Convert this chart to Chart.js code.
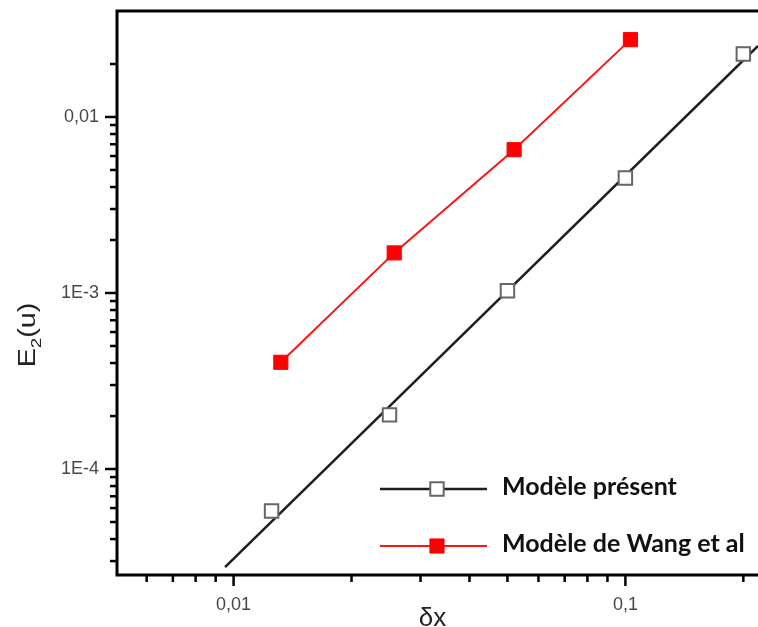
<!DOCTYPE html>
<html>
<head>
<meta charset="utf-8">
<script src="https://cdn.jsdelivr.net/npm/chart.js@4/dist/chart.umd.min.js"></script>
<style>
  html, body { margin: 0; padding: 0; background: #ffffff; }
  #wrap { width: 758px; height: 627px; }
</style>
</head>
<body>
<div id="wrap"><canvas id="chart" width="758" height="627"></canvas></div>
<script>
// Step size δx and L2 error E2(u) of each scheme
const dxPresent  = [0.0125, 0.025, 0.05, 0.1, 0.2];
const errPresent = [5.77e-5, 2.03e-4, 1.03e-3, 4.5e-3, 0.0228];
const dxWang     = [0.0132, 0.0257, 0.052, 0.103];
const errWang    = [4.04e-4, 1.69e-3, 6.52e-3, 0.0275];

// End points of the straight trend line drawn through the present model
const trendDx  = [0.00951, 0.218];
const trendErr = [2.77e-5, 0.0253];

const seriesNames = ['Modèle présent', 'Modèle de Wang et al'];

// Axis ticks (log scales): labelled majors and unlabelled minors
const xMajorTicks  = [0.01, 0.1];
const xMajorLabels = ['0,01', '0,1'];
const xMinorTicks  = [0.006, 0.007, 0.008, 0.009,
                      0.02, 0.03, 0.04, 0.05, 0.06, 0.07, 0.08, 0.09, 0.2];
const yMajorTicks  = [1e-4, 1e-3, 1e-2];
const yMajorLabels = ['1E-4', '1E-3', '0,01'];
const yMinorTicks  = [3e-5, 4e-5, 5e-5, 6e-5, 7e-5, 8e-5, 9e-5,
                      2e-4, 3e-4, 4e-4, 5e-4, 6e-4, 7e-4, 8e-4, 9e-4,
                      2e-3, 3e-3, 4e-3, 5e-3, 6e-3, 7e-3, 8e-3, 9e-3, 0.02];

const xRange = [0.00504, 0.218];
const yRange = [2.5e-5, 0.04];

const toPoints = (xs, ys) => xs.map((x, i) => ({ x: x, y: ys[i] }));

function tickList(majors, minors) {
  return majors.map(v => ({ value: v, major: true }))
    .concat(minors.map(v => ({ value: v, major: false })))
    .sort((a, b) => a.value - b.value);
}
function labelFor(majors, labels) {
  return function (value) {
    const i = majors.findIndex(m => Math.abs(m - value) / m < 1e-9);
    return i >= 0 ? labels[i] : '';
  };
}
// fixed axis box: no extra room reserved for overhanging labels
function fixSize(prop, size) {
  return s => {
    s[prop] = size;
    s.paddingTop = 0; s.paddingBottom = 0; s.paddingLeft = 0; s.paddingRight = 0;
  };
}

const TICK_FONT = { family: "'Liberation Sans', Arial, sans-serif", size: 18 };
const TICK_COLOR = '#484848';

// Frame, tick marks, axis titles and the in-plot legend
const framePlugin = {
  id: 'frame',
  afterDatasetsDraw(chart) {
    const ctx = chart.ctx;
    const a = chart.chartArea;
    const xs = chart.scales.x, ys = chart.scales.y;
    ctx.save();
    ctx.strokeStyle = '#000000';
    ctx.lineCap = 'butt';
    // tick marks, pointing outward
    ctx.lineWidth = 2.5;
    ys.ticks.forEach(t => {
      const py = ys.getPixelForValue(t.value);
      const len = t.major ? 12 : 7;
      ctx.beginPath();
      ctx.moveTo(a.left - len, py);
      ctx.lineTo(a.left, py);
      ctx.stroke();
    });
    xs.ticks.forEach(t => {
      const px = xs.getPixelForValue(t.value);
      const len = t.major ? 11 : 7;
      ctx.beginPath();
      ctx.moveTo(px, a.bottom);
      ctx.lineTo(px, a.bottom + len);
      ctx.stroke();
    });
    // axis box (left, bottom, top)
    ctx.lineWidth = 3;
    ctx.beginPath();
    ctx.moveTo(a.right, a.top);
    ctx.lineTo(a.left, a.top);
    ctx.lineTo(a.left, a.bottom);
    ctx.lineTo(a.right, a.bottom);
    ctx.stroke();
    ctx.restore();
  },
  afterDraw(chart) {
    const ctx = chart.ctx;
    const a = chart.chartArea;
    ctx.save();

    // x title
    ctx.fillStyle = '#222222';
    ctx.font = "26px 'Liberation Sans', Arial, sans-serif";
    ctx.textAlign = 'center';
    ctx.textBaseline = 'alphabetic';
    ctx.fillText('δx', (a.left + a.right) / 2 - 5, 626);

    // y title with subscript, rotated
    ctx.save();
    ctx.translate(35, 335);
    ctx.rotate(-Math.PI / 2);
    ctx.scale(1.25, 1);
    const big = "23px 'Liberation Sans', Arial, sans-serif";
    const small = "15px 'Liberation Sans', Arial, sans-serif";
    ctx.textAlign = 'left';
    ctx.font = big;  const wE = ctx.measureText('E').width;
    ctx.font = small; const w2 = ctx.measureText('2').width;
    ctx.font = big;  const wU = ctx.measureText('(u)').width;
    let x0 = -(wE + w2 + wU) / 2;
    ctx.font = big;   ctx.fillText('E', x0, 0); x0 += wE;
    ctx.font = small; ctx.fillText('2', x0, 6); x0 += w2;
    ctx.font = big;   ctx.fillText('(u)', x0, 0);
    ctx.restore();

    // legend
    const rows = [
      { ds: chart.data.datasets[0], line: chart.data.datasets[1], y: 489, text: seriesNames[0] },
      { ds: chart.data.datasets[2], line: chart.data.datasets[2], y: 546, text: seriesNames[1] }
    ];
    const lx0 = 380, lx1 = 487, mx = 437, tx = 502;
    rows.forEach(r => {
      ctx.strokeStyle = r.line.borderColor;
      ctx.lineWidth = r.line.borderWidth;
      ctx.beginPath();
      ctx.moveTo(lx0, r.y);
      ctx.lineTo(lx1, r.y);
      ctx.stroke();
      ctx.fillStyle = r.ds.pointBackgroundColor;
      ctx.strokeStyle = r.ds.pointBorderColor;
      ctx.lineWidth = r.ds.pointBorderWidth;
      ctx.beginPath();
      const s = Math.SQRT1_2 * r.ds.pointRadius;
      ctx.rect(mx - s, r.y - s, 2 * s, 2 * s);
      ctx.fill();
      ctx.stroke();
      ctx.fillStyle = '#111111';
      ctx.font = "bold 25px Lato, 'Open Sans', sans-serif";
      ctx.textAlign = 'left';
      ctx.textBaseline = 'alphabetic';
      ctx.fillText(r.text, tx, r.y + 6);
    });
    ctx.restore();
  }
};

new Chart(document.getElementById('chart').getContext('2d'), {
  type: 'line',
  data: {
    datasets: [
      {
        label: seriesNames[0],
        data: toPoints(dxPresent, errPresent),
        showLine: false,
        pointStyle: 'rect',
        pointRadius: 9.5,
        pointBorderWidth: 2,
        pointBorderColor: '#666666',
        pointBackgroundColor: '#ffffff',
        borderColor: '#1e1e1e',
        order: 0
      },
      {
        label: 'trend',
        data: toPoints(trendDx, trendErr),
        borderColor: '#1e1e1e',
        borderWidth: 2.5,
        pointRadius: 0,
        order: 2
      },
      {
        label: seriesNames[1],
        data: toPoints(dxWang, errWang),
        borderColor: '#ff1414',
        borderWidth: 2,
        pointStyle: 'rect',
        pointRadius: 10,
        pointBorderWidth: 1,
        pointBorderColor: '#ff0000',
        pointBackgroundColor: '#ff0000',
        order: 1
      }
    ]
  },
  options: {
    responsive: false,
    animation: false,
    devicePixelRatio: 1,
    layout: { autoPadding: false, padding: { top: 11, left: 0, right: 0, bottom: 0 } },
    plugins: { legend: { display: false }, tooltip: { enabled: false } },
    elements: { line: { tension: 0 } },
    scales: {
      x: {
        type: 'logarithmic',
        position: 'bottom',
        min: xRange[0],
        max: xRange[1],
        grid: { display: false, drawTicks: false },
        border: { display: false },
        afterBuildTicks: s => { s.ticks = tickList(xMajorTicks, xMinorTicks); },
        afterFit: fixSize('height', 52),
        ticks: {
          autoSkip: false, maxRotation: 0, minRotation: 0,
          padding: 19, color: TICK_COLOR, font: TICK_FONT,
          callback: labelFor(xMajorTicks, xMajorLabels)
        }
      },
      y: {
        type: 'logarithmic',
        position: 'left',
        min: yRange[0],
        max: yRange[1],
        grid: { display: false, drawTicks: false },
        border: { display: false },
        afterBuildTicks: s => { s.ticks = tickList(yMajorTicks, yMinorTicks); },
        afterFit: fixSize('width', 117),
        ticks: {
          autoSkip: false,
          padding: 18, color: TICK_COLOR, font: TICK_FONT,
          callback: labelFor(yMajorTicks, yMajorLabels)
        }
      }
    }
  },
  plugins: [framePlugin]
});
</script>
</body>
</html>
